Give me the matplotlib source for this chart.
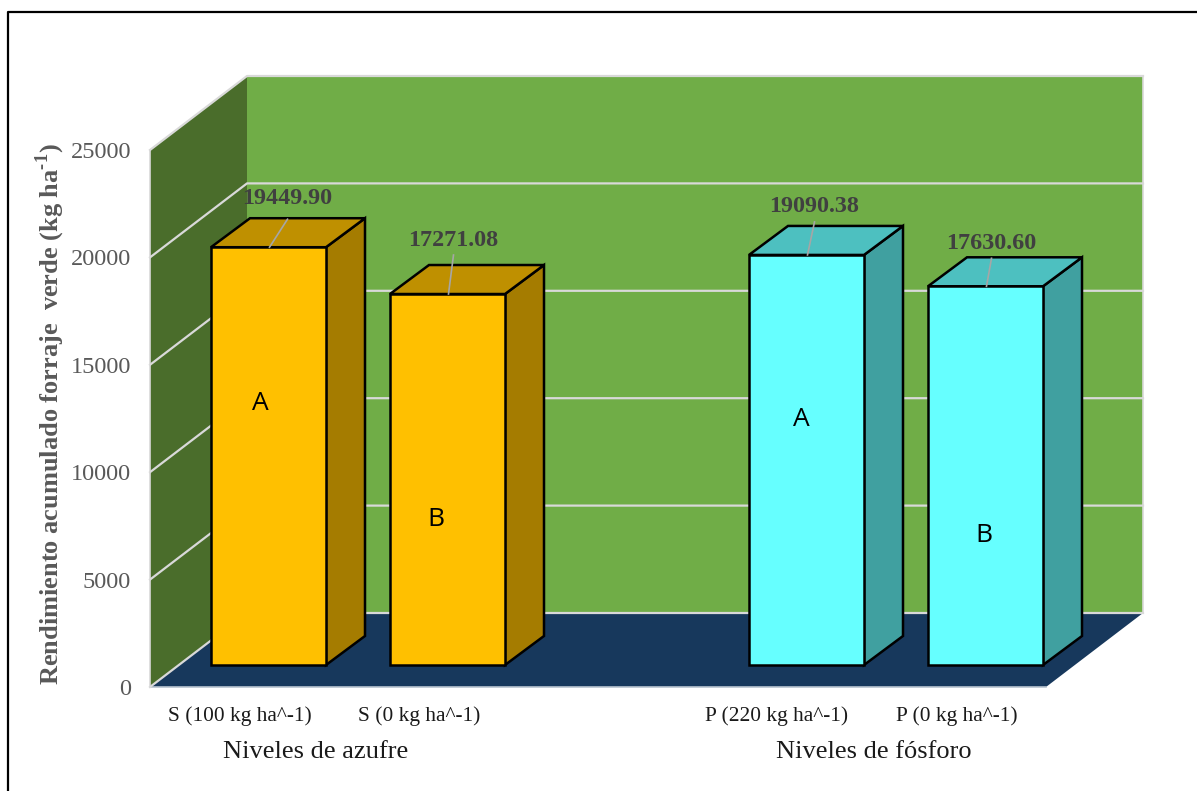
import matplotlib
matplotlib.use("Agg")
import matplotlib.pyplot as plt
from matplotlib.patches import Polygon

plt.rcParams['font.family'] = ['Liberation Serif', 'DejaVu Sans']
plt.rcParams['mathtext.fontset'] = 'custom'
plt.rcParams['mathtext.bf'] = 'Liberation Serif:bold'
plt.rcParams['mathtext.rm'] = 'Liberation Serif'

# forage yield per treatment
categories = ['S (100 kg ha^-1)', 'S (0 kg ha^-1)', 'P (220 kg ha^-1)', 'P (0 kg ha^-1)']
values = [19449.90, 17271.08, 19090.38, 17630.60]
letters = ['A', 'B', 'A', 'B']
groups = ['Niveles de azufre', 'Niveles de fósforo']
yticks = [0, 5000, 10000, 15000, 20000, 25000]

# layout, x in pixels, y converted to kg/ha
bar_left = [211, 390, 749, 928]
bar_width = 115
y_scale = 537 / 25000
floor_dx, floor_dy = 97, 74 / y_scale
bar_dx, bar_dy = 39, 29 / y_scale
bar_base = 22 / y_scale
x0, x1 = 150, 1046

face = ['#FFC000', '#FFC000', '#66FFFF', '#66FFFF']
top = ['#BF9000', '#BF9000', '#4DC0C0', '#4DC0C0']
side = ['#A57C00', '#A57C00', '#40A0A0', '#40A0A0']

# label offset from the front top edge, pixels
label_x = [18, 5, 7, 5]
line_top = [28, 39, 33, 28]
label_y = [51, 56, 51, 45]
letter_x = [260, 436, 801, 984]
letter_y = [403, 519, 419, 535]
cat_x = [240, 419, 777, 957]
group_x = [316, 874]

fig = plt.figure(figsize=(11.97, 7.91), dpi=100)
ax = fig.add_axes([0, 0, 1, 1])
ax.set_xlim(0, 1197)
ax.set_ylim((687 - 791) / y_scale, 687 / y_scale)
ax.axis('off')


def px(y):
    return (687 - y) / y_scale


ymax = yticks[-1]
# back wall, side wall, floor
ax.add_patch(Polygon([(x0 + floor_dx, floor_dy), (x1 + floor_dx, floor_dy),
                      (x1 + floor_dx, ymax + floor_dy), (x0 + floor_dx, ymax + floor_dy)],
                     fc='#70AD47', ec='none', zorder=1))
ax.add_patch(Polygon([(x0, 0), (x0 + floor_dx, floor_dy),
                      (x0 + floor_dx, ymax + floor_dy), (x0, ymax)],
                     fc='#4A6D2B', ec='none', zorder=1))
ax.add_patch(Polygon([(x0, 0), (x1, 0), (x1 + floor_dx, floor_dy), (x0 + floor_dx, floor_dy)],
                     fc='#17385C', ec='none', zorder=2))
ax.plot([x0, x1], [0, 0], color='#B8C4D0', lw=1.2, zorder=2)
ax.plot([x0, x0], [0, ymax], color='#D9D9D9', lw=1.2, zorder=2)
ax.plot([x1 + floor_dx, x1 + floor_dx], [floor_dy, ymax + floor_dy], color='#D9D9D9', lw=1.2, zorder=2)

for t in yticks:
    ax.plot([x0, x0 + floor_dx, x1 + floor_dx], [t, t + floor_dy, t + floor_dy],
            color='#D9D9D9', lw=1.6, zorder=2)
    ax.text(131, t, str(t), ha='right', va='center_baseline', fontsize=17.5, color='#595959')

# bars with top and side faces
for i, v in enumerate(values):
    l = bar_left[i]
    r = l + bar_width
    b = bar_base
    t = bar_base + v
    ax.add_patch(Polygon([(r, b), (r + bar_dx, b + bar_dy), (r + bar_dx, t + bar_dy), (r, t)],
                         fc=side[i], ec='black', lw=1.8, zorder=4))
    ax.add_patch(Polygon([(l, t), (r, t), (r + bar_dx, t + bar_dy), (l + bar_dx, t + bar_dy)],
                         fc=top[i], ec='black', lw=1.8, zorder=4))
    ax.add_patch(Polygon([(l, b), (r, b), (r, t), (l, t)],
                         fc=face[i], ec='black', lw=1.8, zorder=5))
    mid = (l + r) / 2
    ax.plot([mid + 1, mid + label_x[i] + 1], [t, t + line_top[i] / y_scale],
            color='#A6A6A6', lw=1.2, zorder=6)
    ax.text(mid + label_x[i] + 1, t + label_y[i] / y_scale, f'{v:.2f}', ha='center', va='center_baseline',
            fontsize=17.4, fontweight='bold', color='#404040', zorder=7)
    ax.text(cat_x[i], px(714), categories[i], ha='center', va='center_baseline',
            fontsize=15.4, color='#1a1a1a')
    ax.text(letter_x[i], px(letter_y[i]), letters[i], ha='center', va='center',
            fontsize=19, family='Open Sans', color='black', zorder=7)

for g, gx in zip(groups, group_x):
    ax.text(gx, px(750), g, ha='center', va='center_baseline', fontsize=19, color='#1a1a1a')

ax.text(50, px(414), 'Rendimiento acumulado forraje  verde (kg ha$^{\\mathbf{\u20101}}$)', rotation=90,
        ha='center', va='center', fontsize=19, fontweight='bold', color='#595959')

# frame, left and top only
ax.plot([7.5, 7.5, 1197], [px(791), px(11.5), px(11.5)], color='black', lw=1.6, zorder=8)

fig.savefig('out.png', dpi=100)
